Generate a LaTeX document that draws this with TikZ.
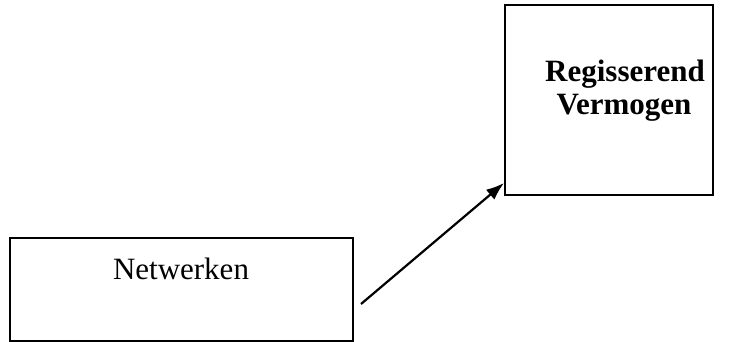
\documentclass[tikz,border=0pt]{standalone}
\usepackage{fontspec}
\setmainfont{Liberation Serif}
\usetikzlibrary{arrows.meta}
\begin{document}
\begin{tikzpicture}[x=1pt,y=-1pt,
  box/.style={draw, line width=1.4pt, inner sep=0pt},
  label/.style={font=\fontsize{31}{35}\selectfont, align=center, inner sep=0pt},
  link/.style={line width=2.2pt, -{Latex[length=18pt,width=13pt]}}]
\useasboundingbox (0,0) rectangle (741,342);
% boxes
\draw[box] (10,238) rectangle (353,341);
\draw[box] (505,5) rectangle (713,195);
\node[label, anchor=base] (netw) at (181,279) {Netwerken};
\node[label, font=\fontsize{31}{35}\selectfont\bfseries, anchor=base] (reg) at (625,82) {Regisserend};
\node[label, font=\fontsize{31}{35}\selectfont\bfseries, anchor=base] (verm) at (624,115) {Vermogen};
% connector
\coordinate (from) at (361,304);
\coordinate (to) at (504,183);
\draw[link] (from) -- (to);
\end{tikzpicture}
\end{document}
